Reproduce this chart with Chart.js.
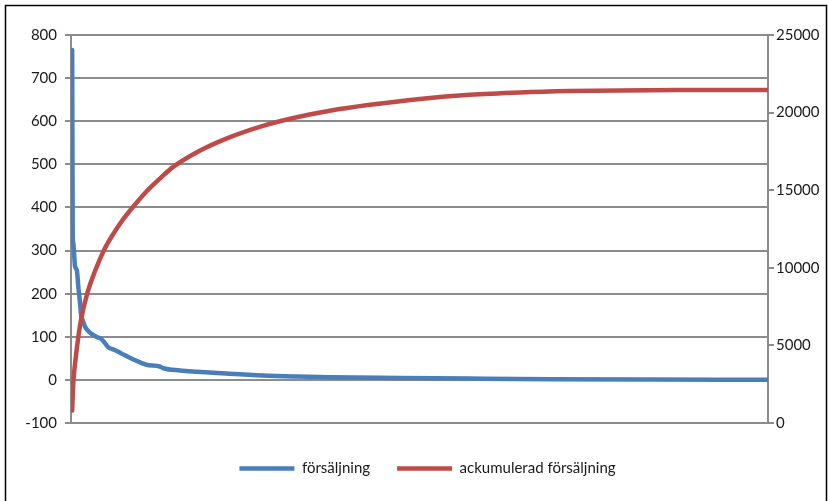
<!DOCTYPE html>
<html>
<head>
<meta charset="utf-8">
<script src="https://cdn.jsdelivr.net/npm/chart.js@4.4.1/dist/chart.umd.min.js"></script>
<style>
  html, body { margin: 0; padding: 0; background: #ffffff; }
  #wrap { position: relative; width: 829px; height: 501px; }
</style>
</head>
<body>
<div id="wrap"><canvas id="c" width="829" height="501"></canvas></div>
<script>
// Series names (legend)
const seriesNames = ['försäljning', 'ackumulerad försäljning'];

// Sales per product, ordered from best to worst seller (product rank -> sales)
const salesRanks = [1, 2, 3, 4, 6, 9, 12, 13, 17, 19, 23, 27, 33, 44, 50, 56, 63, 67, 73, 85, 102, 122, 129, 152, 158, 187, 216, 273, 330, 388, 445, 566, 686, 829, 996, 1200];
const sales      = [765, 330, 318, 300, 263, 255, 210, 200, 145, 139, 124, 116, 108, 99, 96, 88, 76, 73, 70, 62, 50, 38.5, 35, 31, 27, 22, 19, 14, 10, 7.7, 6.2, 4.5, 3, 1.5, 0.8, 0.3];

// Accumulated sales on the same product rank scale
const cumulativeRanks = [1, 2, 3, 5, 7, 10, 16, 27, 39, 56, 73, 90, 106, 129, 158, 175, 216, 273, 330, 388, 445, 514, 600, 686, 773, 859, 945, 1060, 1200];
const cumulative      = [800, 1800, 2600, 3500, 4150, 5100, 6600, 8350, 9650, 11150, 12250, 13180, 13930, 14920, 15950, 16500, 17450, 18420, 19150, 19700, 20120, 20500, 20880, 21150, 21300, 21385, 21430, 21452, 21458];

// Axis tick labels
const leftTicks  = [-100, 0, 100, 200, 300, 400, 500, 600, 700, 800];
const rightTicks = [0, 5000, 10000, 15000, 20000, 25000];

const toPoints = (xs, ys) => xs.map((x, i) => ({ x: x, y: ys[i] }));

const gridGray = '#8c8c8c';
const textColor = '#1a1a1a';
const tickFont = { family: 'Lato', size: 15 };

// White page with the thin black frame around the chart
const framePlugin = {
  id: 'frame',
  beforeDraw(chart) {
    const ctx = chart.ctx;
    ctx.save();
    ctx.fillStyle = '#ffffff';
    ctx.fillRect(0, 0, chart.width, chart.height);
    ctx.restore();
  },
  afterDraw(chart) {
    const ctx = chart.ctx;
    ctx.save();
    ctx.strokeStyle = '#000000';
    ctx.lineWidth = 1.5;
    ctx.beginPath();
    ctx.moveTo(5.5, 520);
    ctx.lineTo(5.5, 5.5);
    ctx.lineTo(826.5, 5.5);
    ctx.lineTo(826.5, 520);
    ctx.stroke();
    ctx.restore();
  }
};

new Chart(document.getElementById('c'), {
  type: 'line',
  data: {
    datasets: [
      {
        label: seriesNames[0],
        data: toPoints(salesRanks, sales),
        yAxisID: 'y',
        borderColor: '#4A7EBB',
        backgroundColor: '#4A7EBB',
        borderWidth: 4.5,
        borderCapStyle: 'round',
        borderJoinStyle: 'round',
        pointRadius: 0,
        cubicInterpolationMode: 'monotone',
        order: 1
      },
      {
        label: seriesNames[1],
        data: toPoints(cumulativeRanks, cumulative),
        yAxisID: 'y1',
        borderColor: '#BE4B48',
        backgroundColor: '#BE4B48',
        borderWidth: 4.5,
        borderCapStyle: 'round',
        borderJoinStyle: 'round',
        pointRadius: 0,
        cubicInterpolationMode: 'monotone',
        order: 0
      }
    ]
  },
  options: {
    responsive: false,
    animation: false,
    devicePixelRatio: 1,
    layout: { padding: { left: 26, right: 0, top: 35, bottom: 15 } },
    plugins: {
      tooltip: { enabled: false },
      legend: {
        position: 'bottom',
        labels: {
          usePointStyle: true,
          pointStyle: 'line',
          pointStyleWidth: 55,
          padding: 27,
          color: textColor,
          font: { family: 'Lato', size: 15 },
          sort: (a, b) => a.datasetIndex - b.datasetIndex
        }
      }
    },
    scales: {
      x: {
        type: 'linear',
        min: -1,
        max: 1200,
        ticks: { display: false },
        grid: { display: false },
        border: { display: false },
        afterFit: (s) => { s.height = 11; }
      },
      y: {
        position: 'left',
        min: -100,
        max: 800,
        afterBuildTicks: (s) => { s.ticks = leftTicks.map(v => ({ value: v })); },
        afterFit: (s) => { s.width = 45; },
        grid: { color: gridGray, lineWidth: 2, tickLength: 6, drawTicks: true },
        border: { display: true, color: gridGray, width: 2 },
        ticks: { color: textColor, font: tickFont, padding: 8, callback: (v) => String(v) }
      },
      y1: {
        position: 'right',
        min: 0,
        max: 25000,
        afterBuildTicks: (s) => { s.ticks = rightTicks.map(v => ({ value: v })); },
        afterFit: (s) => { s.width = 61; },
        grid: { drawOnChartArea: false, color: gridGray, lineWidth: 2, tickLength: 6, drawTicks: true },
        border: { display: true, color: gridGray, width: 2 },
        ticks: { color: textColor, font: tickFont, padding: 2, callback: (v) => String(v) }
      }
    }
  },
  plugins: [framePlugin]
});
</script>
</body>
</html>
